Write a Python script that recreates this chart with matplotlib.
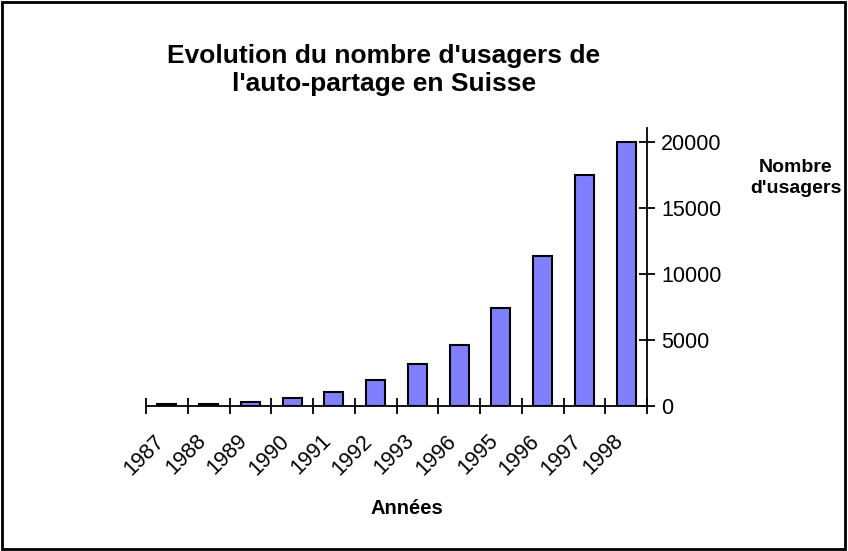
import numpy as np
import matplotlib.pyplot as plt
import matplotlib.transforms as mtransforms
from matplotlib.patches import Rectangle

plt.rcParams['font.family'] = ['Liberation Sans', 'DejaVu Sans']

years = ['1987', '1988', '1989', '1990', '1991', '1992',
         '1993', '1996', '1995', '1996', '1997', '1998']
users = [150, 150, 300, 600, 1060, 1970, 3180, 4620, 7420, 11360, 17500, 20000]

fig = plt.figure(figsize=(8.48, 5.51), dpi=100)
ax = fig.add_axes([146/848, 1 - 406/551, (647 - 146)/848, (406 - 128)/551])

x = np.arange(len(years)) + 0.5
ax.bar(x, users, width=0.45, color='#8080ff', edgecolor='black', linewidth=1.5, zorder=3)

ax.set_xlim(0, len(years))
ax.set_ylim(0, 21060)

for s in ['top', 'left']:
    ax.spines[s].set_visible(False)
ax.spines['bottom'].set_linewidth(1.3)
ax.spines['right'].set_linewidth(1.3)

ax.yaxis.tick_right()
ax.set_yticks([0, 5000, 10000, 15000, 20000])
ax.tick_params(axis='y', direction='inout', length=12, width=1.3, labelsize=15.5, pad=4)

# ticks at category boundaries
ax.set_xticks(np.arange(len(years) + 1))
ax.set_xticklabels([])
ax.tick_params(axis='x', which='major', direction='inout', length=12, width=1.3)

# rotated year labels, slightly left of each category centre
offset = mtransforms.ScaledTranslation(-6/100, -32/100, fig.dpi_scale_trans)
trans = ax.get_xaxis_transform() + offset
for xi, lab in zip(x, years):
    ax.text(xi, 0, lab, transform=trans, rotation=45, ha='right', va='center',
            rotation_mode='anchor', fontsize=15.5)

fig.text(384/848, 1 - 70/551, "Evolution du nombre d'usagers de\nl'auto-partage en Suisse",
         ha='center', va='center', fontsize=19, fontweight='bold', linespacing=1.25)
fig.text(796/848, 1 - 178/551, "Nombre\nd'usagers", ha='center', va='center',
         fontsize=14, fontweight='bold', linespacing=1.25)
fig.text(407/848, 1 - 508/551, "Années", ha='center', va='center', fontsize=14.5, fontweight='bold')

fig.patches.append(Rectangle((0.002, 0.003), 0.995, 0.994, transform=fig.transFigure,
                             fill=False, edgecolor='black', linewidth=2))

fig.savefig('out.png', dpi=100)
